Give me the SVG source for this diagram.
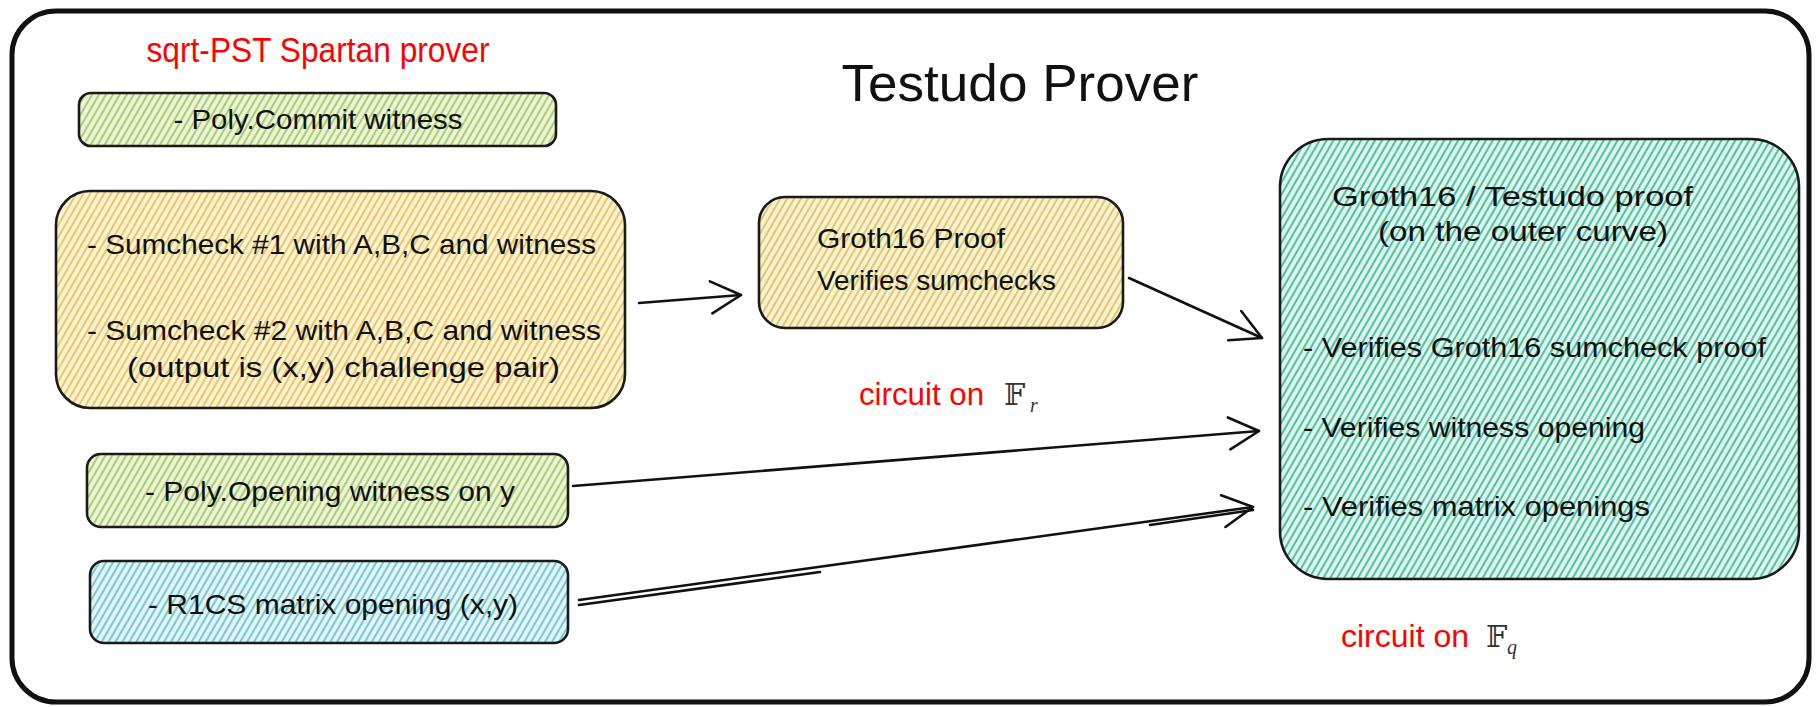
<svg xmlns="http://www.w3.org/2000/svg" width="1816" height="707" viewBox="0 0 1816 707">
<style>
.box{stroke:#1a1a1a;stroke-width:2.6;}
.hand{font-family:"Liberation Sans","DejaVu Sans",sans-serif;fill:#111;font-size:28px;}
.title{font-family:"Liberation Sans","DejaVu Sans",sans-serif;fill:#111;font-size:52px;}
.red{font-family:"Liberation Sans",sans-serif;fill:#ff0000;}
.bb{font-family:"DejaVu Serif","DejaVu Sans",serif;fill:#333;}
.sub{font-family:"Liberation Serif",serif;font-style:italic;fill:#333;}
.conn{fill:none;stroke:#111;stroke-width:2.6;stroke-linecap:round;}
</style>
<defs>
<pattern id="hGreen" width="6" height="6" patternUnits="userSpaceOnUse" patternTransform="rotate(30)">
<rect width="6" height="6" fill="#ecf4d8"/><line x1="1" y1="0" x2="1" y2="6" stroke="#9fc862" stroke-width="1.7"/></pattern>
<pattern id="hYellow" width="6" height="6" patternUnits="userSpaceOnUse" patternTransform="rotate(30)">
<rect width="6" height="6" fill="#fbf2d2"/><line x1="1" y1="0" x2="1" y2="6" stroke="#e6c058" stroke-width="1.7"/></pattern>
<pattern id="hGold" width="6" height="6" patternUnits="userSpaceOnUse" patternTransform="rotate(30)">
<rect width="6" height="6" fill="#f8f1d0"/><line x1="1" y1="0" x2="1" y2="6" stroke="#d8c262" stroke-width="1.7"/></pattern>
<pattern id="hBlue" width="6" height="6" patternUnits="userSpaceOnUse" patternTransform="rotate(30)">
<rect width="6" height="6" fill="#e2f4f6"/><line x1="1" y1="0" x2="1" y2="6" stroke="#66c2cd" stroke-width="1.7"/></pattern>
<pattern id="hTeal" width="6" height="6" patternUnits="userSpaceOnUse" patternTransform="rotate(30)">
<rect width="6" height="6" fill="#ddf3ec"/><line x1="1" y1="0" x2="1" y2="6" stroke="#45bc9c" stroke-width="1.8"/></pattern>
<marker id="arr" viewBox="-34 -20 40 40" markerWidth="40" markerHeight="40" refX="0" refY="0" orient="auto" markerUnits="userSpaceOnUse">
<path d="M-30,-16 L0,0 L-30,16" fill="none" stroke="#111" stroke-width="2.6" stroke-linecap="round" stroke-linejoin="round"/>
</marker>
</defs>
<rect width="1816" height="707" fill="#ffffff"/>
<g id="frame">
<rect x="12" y="11" width="1797" height="691" rx="44" fill="none" stroke="#111" stroke-width="5"/>
</g>
<g id="labels">
<text class="red" x="318" y="62" font-size="35" text-anchor="middle" textLength="343" lengthAdjust="spacingAndGlyphs">sqrt-PST Spartan prover</text>
<text class="title" x="1020" y="101" text-anchor="middle" textLength="357" lengthAdjust="spacingAndGlyphs">Testudo Prover</text>
</g>
<g id="node-commit">
<rect class="box" x="79" y="93" width="477" height="53" rx="12" fill="url(#hGreen)"/>
<text class="hand" x="318" y="129" text-anchor="middle" textLength="289" lengthAdjust="spacingAndGlyphs">- Poly.Commit witness</text>
</g>
<g id="node-sumcheck">
<rect class="box" x="56" y="191" width="569" height="217" rx="34" fill="url(#hYellow)"/>
<text class="hand" x="87" y="254" textLength="509" lengthAdjust="spacingAndGlyphs">- Sumcheck #1 with A,B,C and witness</text>
<text class="hand" x="87" y="340" textLength="514" lengthAdjust="spacingAndGlyphs">- Sumcheck #2 with A,B,C and witness</text>
<text class="hand" x="127" y="377" textLength="433" lengthAdjust="spacingAndGlyphs">(output is (x,y) challenge pair)</text>
</g>
<g id="node-opening">
<rect class="box" x="87" y="454" width="481" height="73" rx="14" fill="url(#hGreen)"/>
<text class="hand" x="145" y="501" textLength="370" lengthAdjust="spacingAndGlyphs">- Poly.Opening witness on y</text>
</g>
<g id="node-r1cs">
<rect class="box" x="90" y="561" width="478" height="82" rx="14" fill="url(#hBlue)"/>
<text class="hand" x="148" y="614" textLength="370" lengthAdjust="spacingAndGlyphs">- R1CS matrix opening (x,y)</text>
</g>
<g id="node-groth">
<rect class="box" x="759" y="197" width="364" height="131" rx="26" fill="url(#hGold)"/>
<text class="hand" x="817" y="248" textLength="188" lengthAdjust="spacingAndGlyphs">Groth16 Proof</text>
<text class="hand" x="817" y="290" textLength="239" lengthAdjust="spacingAndGlyphs">Verifies sumchecks</text>
</g>
<g id="label-fr">
<text class="red" x="859" y="405" font-size="31" textLength="125" lengthAdjust="spacingAndGlyphs">circuit on</text>
<text class="bb" x="1004" y="405" font-size="30">𝔽</text>
<text class="sub" x="1030" y="412" font-size="20">r</text>
</g>
<g id="node-final">
<rect class="box" x="1280" y="139" width="519" height="440" rx="48" fill="url(#hTeal)"/>
<text class="hand" x="1332" y="206" textLength="361" lengthAdjust="spacingAndGlyphs">Groth16 / Testudo proof</text>
<text class="hand" x="1378" y="241" textLength="290" lengthAdjust="spacingAndGlyphs">(on the outer curve)</text>
<text class="hand" x="1303" y="357" textLength="463" lengthAdjust="spacingAndGlyphs">- Verifies Groth16 sumcheck proof</text>
<text class="hand" x="1303" y="437" textLength="342" lengthAdjust="spacingAndGlyphs">- Verifies witness opening</text>
<text class="hand" x="1303" y="516" textLength="347" lengthAdjust="spacingAndGlyphs">- Verifies matrix openings</text>
</g>
<g id="label-fq">
<text class="red" x="1341" y="647" font-size="31" textLength="128" lengthAdjust="spacingAndGlyphs">circuit on</text>
<text class="bb" x="1486" y="647" font-size="30">𝔽</text>
<text class="sub" x="1507" y="654" font-size="20">q</text>
</g>
<g id="connectors">
<path class="conn" d="M639,303 L741,295" marker-end="url(#arr)"/>
<path class="conn" d="M1129,278 L1262,338" marker-end="url(#arr)"/>
<path class="conn" d="M573,486 L1259,431" marker-end="url(#arr)"/>
<path class="conn" d="M579,600 L1253,507" marker-end="url(#arr)"/>
<path class="conn" d="M579,605 L820,572" stroke-width="1.4"/>
<path class="conn" d="M1150,525 L1253,510" stroke-width="1.4"/>
</g>
</svg>
